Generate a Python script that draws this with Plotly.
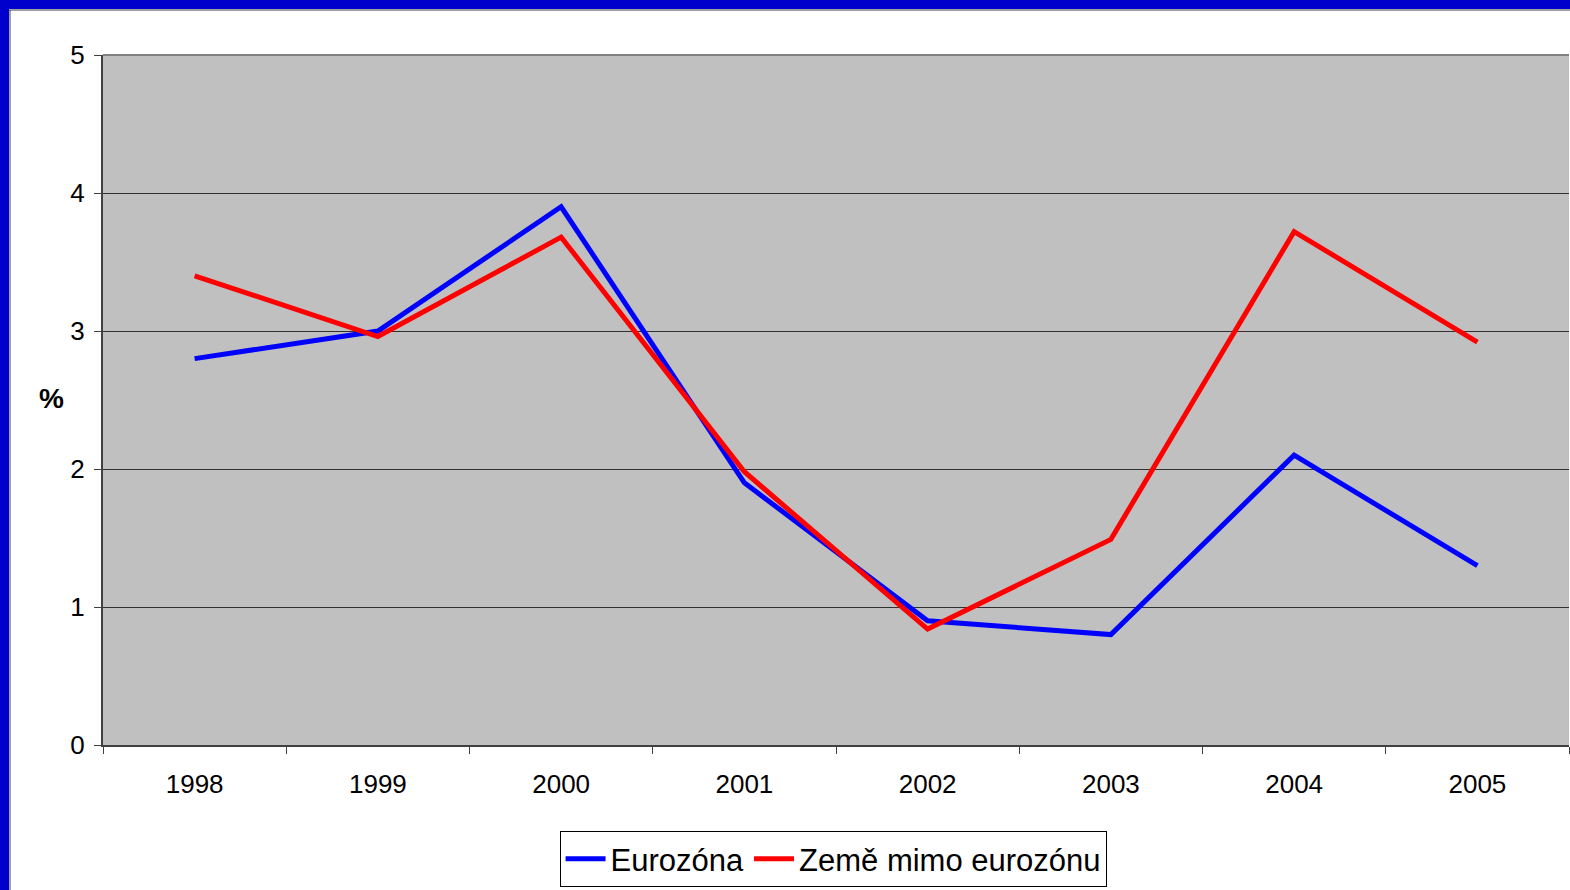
import plotly.graph_objects as go

years = ["1998", "1999", "2000", "2001", "2002", "2003", "2004", "2005"]
eurozona = [2.8, 3.0, 3.9, 1.9, 0.9, 0.8, 2.1, 1.3]
mimo_eurozonu = [3.4, 2.96, 3.68, 1.98, 0.84, 1.49, 3.72, 2.92]
y_ticks = [0, 1, 2, 3, 4, 5]

W, H = 1570, 890
L, R, T, B = 103, 1, 55, 145
pw, ph = W - L - R, H - T - B


def px_x(p):
    return (p - L) / pw


def px_y(p):
    return (H - B - p) / ph


font = "Liberation Sans, Arial, sans-serif"

fig = go.Figure()
fig.add_trace(go.Scatter(x=years, y=eurozona, mode="lines", name="Eurozóna",
                         line=dict(color="#0000FF", width=5)))
fig.add_trace(go.Scatter(x=years, y=mimo_eurozonu, mode="lines", name="Země mimo eurozónu",
                         line=dict(color="#FF0000", width=5)))

fig.update_layout(
    width=W, height=H,
    margin=dict(l=L, r=R, t=T, b=B),
    paper_bgcolor="white",
    plot_bgcolor="#C0C0C0",
    font=dict(family=font, size=26, color="black"),
    showlegend=True,
    legend=dict(orientation="h", x=0.498, xanchor="center", y=px_y(831), yanchor="top",
                bgcolor="white", bordercolor="black", borderwidth=1,
                font=dict(size=31), itemwidth=40, tracegroupgap=0),
    xaxis=dict(type="category", range=[-0.5, 7.5], tickson="boundaries",
               ticks="outside", ticklen=7, tickcolor="#404040", tickwidth=1,
               showline=True, linecolor="#404040", linewidth=2,
               showgrid=False, tickfont=dict(size=26), ticklabelstandoff=15),
    yaxis=dict(range=[0, 5], tickvals=y_ticks, ticks="outside", ticklen=7,
               tickcolor="#404040", showline=True, linecolor="#404040", linewidth=2,
               showgrid=True, gridcolor="#303030", gridwidth=1, zeroline=False,
               tickfont=dict(size=26), ticklabelstandoff=4),
    shapes=[
        # top edge of plot area
        dict(type="line", xref="paper", yref="paper", x0=0, x1=1, y0=1, y1=1,
             line=dict(color="#808080", width=2)),
        # blue frame
        dict(type="rect", xref="paper", yref="paper", x0=px_x(0), x1=px_x(W + 5),
             y0=px_y(9), y1=px_y(-5), fillcolor="#0000CC", line=dict(width=0)),
        dict(type="rect", xref="paper", yref="paper", x0=px_x(-5), x1=px_x(9),
             y0=px_y(H + 5), y1=px_y(0), fillcolor="#0000CC", line=dict(width=0)),
        dict(type="line", xref="paper", yref="paper", x0=px_x(9), x1=px_x(W + 5),
             y0=px_y(10), y1=px_y(10), line=dict(color="#404040", width=1)),
        dict(type="line", xref="paper", yref="paper", x0=px_x(10), x1=px_x(10),
             y0=px_y(H + 5), y1=px_y(10), line=dict(color="#404040", width=1)),
    ],
    annotations=[
        dict(text="<b>%</b>", xref="paper", yref="paper", x=px_x(51), y=px_y(398),
             showarrow=False, font=dict(size=28), xanchor="center", yanchor="middle"),
    ],
)

fig.write_html("out.html", config={"displayModeBar": False},
               post_script="document.body.style.margin='0';")
